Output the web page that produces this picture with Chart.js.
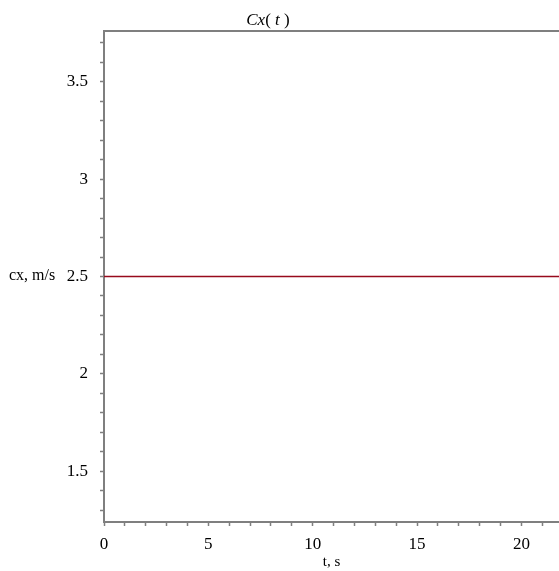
<!DOCTYPE html>
<html>
<head>
<meta charset="utf-8">
<script src="https://cdn.jsdelivr.net/npm/chart.js@4/dist/chart.umd.min.js"></script>
<style>
  html,body{margin:0;padding:0;background:#fff;}
  #wrap{width:559px;height:571px;}
</style>
</head>
<body>
<div id="wrap"><canvas id="grafics"></canvas></div>
<script>
// datos
const t_values = [0, 22]
const cx_values = [2.5, 2.5]
const x_range = [0, 21.8]
const y_range = [1.24, 3.76]
const x_major = 5
const y_major = 0.5

const gray = '#7f7f7f'
const serif = "'Liberation Serif', 'DejaVu Serif', serif"

// titulo y etiqueta del eje y (texto horizontal como en maple)
const textos = {
    id:'textos',
    afterDraw(chart){
        const ctx = chart.ctx
        ctx.save()
        ctx.fillStyle = '#000'
        ctx.textBaseline = 'alphabetic'
        // titulo Cx(t)
        let piezas = [['Cx','italic'],['( ','normal'],['t','italic'],[' )','normal']]
        let total = 0
        piezas.forEach(p=>{ ctx.font = p[1]+' 17px '+serif; total += ctx.measureText(p[0]).width })
        let x = 268 - total/2
        piezas.forEach(p=>{
            ctx.font = p[1]+' 17px '+serif
            ctx.fillText(p[0], x, 25)
            x += ctx.measureText(p[0]).width
        })
        // etiqueta cx, m/s
        const y = chart.scales.y.getPixelForValue(2.5)
        ctx.font = '16px ' + serif
        ctx.textBaseline = 'middle'
        ctx.fillText('cx, m/s', 9, y - 1)
        ctx.restore()
    }
}

const canvas = document.getElementById('grafics')
const context = canvas.getContext('2d')
const chart = new Chart(context,{
    type:'line',
    data:{
        datasets:[{
            label:'Cx',
            data:t_values.map((t,i)=>({x:t,y:cx_values[i]})),
            borderColor:'#980a1c',
            borderWidth:1.6,
            pointRadius:0,
            fill:false,
            tension:0
        }]
    },
    options:{
        responsive:true,
        maintainAspectRatio:false,
        animation:false,
        layout:{padding:{top:31,left:0,right:0,bottom:0}},
        plugins:{legend:{display:false},tooltip:{enabled:false},title:{display:false}},
        scales:{
            x:{
                type:'linear',
                position:'bottom',
                min:x_range[0], max:x_range[1],
                afterFit(s){ s.height = 49 },
                border:{color:gray,width:2},
                grid:{drawOnChartArea:false,drawTicks:true,tickLength:4,color:gray,tickWidth:1.5},
                ticks:{
                    stepSize:1, includeBounds:false, autoSkip:false, maxRotation:0,
                    color:'#000', font:{family:serif,size:17}, padding:8,
                    callback:(v)=> v % x_major === 0 ? String(v) : ''
                },
                title:{display:true,text:'t, s',color:'#000',font:{family:serif,size:15},padding:{top:0,bottom:0}}
            },
            x2:{
                type:'linear',
                position:'top',
                min:x_range[0], max:x_range[1],
                afterFit(s){ s.height = 0 },
                border:{color:gray,width:2},
                grid:{drawOnChartArea:false,drawTicks:false},
                ticks:{display:false}
            },
            y:{
                type:'linear',
                min:y_range[0], max:y_range[1],
                afterFit(s){ s.width = 104 },
                border:{color:gray,width:2},
                grid:{drawOnChartArea:false,drawTicks:true,tickLength:4,color:gray,tickWidth:1.5},
                ticks:{
                    stepSize:0.1, includeBounds:false, autoSkip:false,
                    color:'#000', font:{family:serif,size:17}, padding:12,
                    callback:(v)=>{
                        let k = v / y_major
                        return Math.abs(k - Math.round(k)) < 1e-6 ? String(Math.round(k)*y_major) : ''
                    }
                }
            }
        }
    },
    plugins:[textos]
})
</script>
</body>
</html>
